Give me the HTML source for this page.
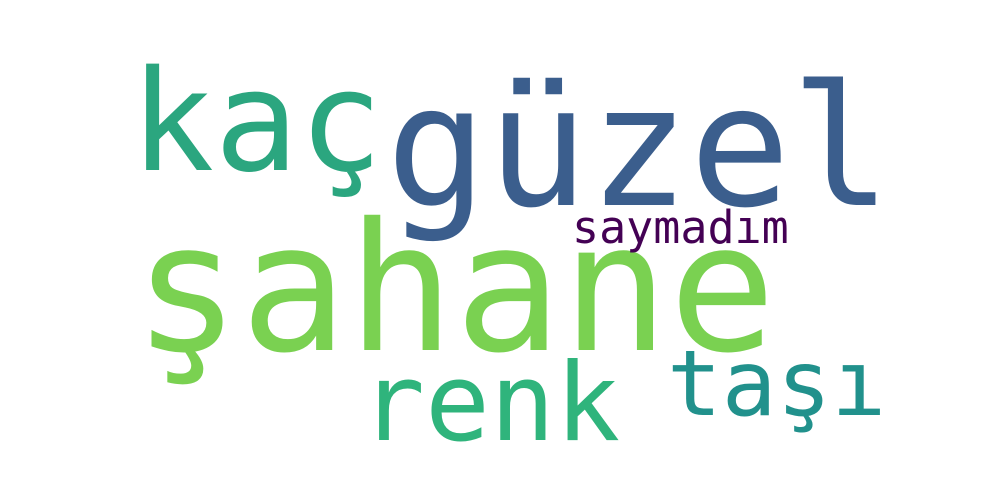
<!DOCTYPE html>
<html><head><meta charset="utf-8"><style>
html,body{margin:0;padding:0;background:#fff;}
svg{display:block}
text{font-family:"DejaVu Sans Mono","Liberation Mono",monospace;}
</style></head><body>
<svg width="1000" height="500" viewBox="0 0 1000 500">
<rect width="1000" height="500" fill="#fff"/>
<text x="130" y="170" font-size="140" fill="#2ba67f">kaç</text>
<text x="386" y="205" font-size="168" fill="#3b5e8d">güzel</text>
<text x="133" y="350" font-size="178" fill="#7ad151">şahane</text>
<text x="360" y="440" font-size="108" fill="#2fb47c">renk</text>
<text x="667" y="415" font-size="91" fill="#21918c">taşı</text>
<text x="572" y="243" font-size="45" fill="#440154">saymadım</text>
</svg>
</body></html>
